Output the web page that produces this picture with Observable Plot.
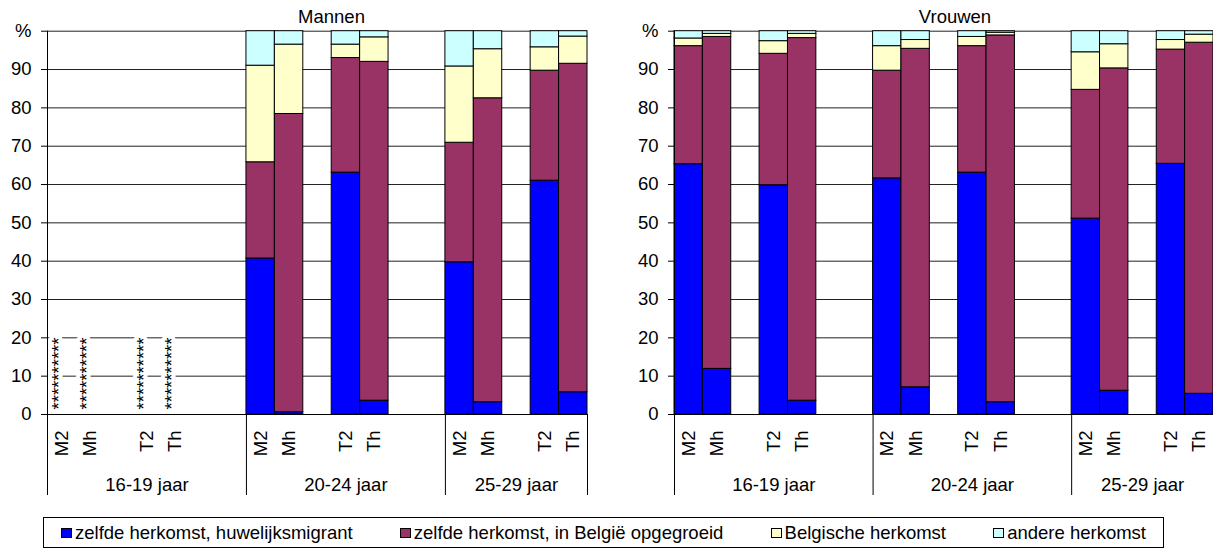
<!DOCTYPE html>
<html><head><meta charset="utf-8">
<script src="https://cdn.jsdelivr.net/npm/d3@7"></script>
<script src="https://cdn.jsdelivr.net/npm/@observablehq/plot@0.6"></script>
<style>
body{margin:0;background:#fff;font-family:"Liberation Sans",Arial,sans-serif;}
#wrap{position:relative;width:1213px;height:549px;overflow:hidden;background:#fff;}
#left,#right{position:absolute;top:0;}
#left{left:0;} #right{left:600px;}
#legend{position:absolute;left:43px;top:517px;width:1121px;height:31px;box-sizing:border-box;border:1px solid #000;display:flex;justify-content:space-between;align-items:center;padding:0 17px;font-size:18.5px;color:#000;}
.item{display:flex;align-items:center;white-space:nowrap;}
.sw{width:9px;height:8px;border:1px solid #000;margin-right:3px;}
</style></head><body>
<div id="wrap"><div id="left"></div><div id="right"></div><div id="legend"></div></div>
<script>
const panelTitles = ["Mannen", "Vrouwen"];
const ageGroups = ["16-19 jaar", "20-24 jaar", "25-29 jaar"];
const subCats = ["M2", "Mh", "T2", "Th"];
const seriesNames = ["zelfde herkomst, huwelijksmigrant", "zelfde herkomst, in België opgegroeid", "Belgische herkomst", "andere herkomst"];
const seriesColors = ["#0000FF", "#993366", "#FFFFCC", "#CCFFFF"];
const yTicks = [0, 10, 20, 30, 40, 50, 60, 70, 80, 90, 100];
const missingLabel = "**********";

// values per age group x subcategory (M2, Mh, T2, Th); null = too few cases
const mannenHuwelijks = [null, null, null, null, 40.7, 0.6, 63.1, 3.6, 39.7, 3.2, 61.0, 5.8];
const mannenOpgegroeid = [null, null, null, null, 25.1, 77.8, 29.9, 88.4, 31.2, 79.3, 28.7, 85.7];
const mannenBelgisch = [null, null, null, null, 25.2, 18.1, 3.5, 6.4, 19.9, 12.8, 6.1, 7.1];
const mannenAndere = [null, null, null, null, 9.0, 3.5, 3.5, 1.6, 9.2, 4.7, 4.2, 1.4];

const vrouwenHuwelijks = [65.3, 11.9, 59.8, 3.6, 61.6, 7.1, 63.1, 3.2, 51.1, 6.2, 65.4, 5.4];
const vrouwenOpgegroeid = [30.8, 86.6, 34.3, 94.6, 28.1, 88.3, 33.0, 95.7, 33.6, 84.1, 29.8, 91.6];
const vrouwenBelgisch = [2.0, 0.8, 3.3, 1.1, 6.4, 2.3, 2.4, 0.7, 9.8, 6.3, 2.5, 2.1];
const vrouwenAndere = [1.9, 0.7, 2.6, 0.7, 3.9, 2.3, 1.5, 0.4, 5.5, 3.4, 2.3, 0.9];

// category slots: M2, Mh, (gap), T2, Th, (gap), (gap)
const slots = [];
ageGroups.forEach((g, gi) => {
  slots.push(`${g}|M2`, `${g}|Mh`, `${g}|gap1`, `${g}|T2`, `${g}|Th`);
  if (gi < ageGroups.length - 1) slots.push(`${g}|gap2`, `${g}|gap3`);
});
const slotLabel = s => { const p = s.split("|")[1]; return subCats.includes(p) ? p : ""; };
const groupCenters = ageGroups.map(g => { const gs = slots.filter(s => s.startsWith(g + "|")); return gs[Math.floor(gs.length / 2)]; });
const groupStarts = ageGroups.map(g => `${g}|M2`);

function buildRows(arrays) {
  const rows = [], missing = [];
  ageGroups.forEach((g, gi) => subCats.forEach((c, ci) => {
    const k = gi * subCats.length + ci;
    if (arrays.every(a => a[k] == null)) { missing.push({slot: `${g}|${c}`}); return; }
    arrays.forEach((a, si) => rows.push({slot: `${g}|${c}`, series: seriesNames[si], value: a[k]}));
  }));
  return {rows, missing};
}

function makePanel(title, arrays, width, marginLeft, marginRight, titleDx) {
  const {rows, missing} = buildRows(arrays);
  const H = 505, mt = 30.7, mb = H - 414;
  const bw = (width - marginLeft - marginRight) / slots.length;
  return Plot.plot({
    width, height: H, marginTop: mt, marginBottom: mb, marginLeft, marginRight,
    style: {fontFamily: "Liberation Sans, Arial, sans-serif", fontSize: "18.5px", color: "#000", background: "transparent", overflow: "visible"},
    x: {type: "band", domain: slots, padding: 0, round: false, label: null},
    y: {domain: [0, 100], label: null},
    color: {domain: seriesNames, range: seriesColors},
    marks: [
      Plot.ruleY(yTicks.filter(d => d > 0), {stroke: "#222", strokeWidth: 1}),
      Plot.barY(rows, {x: "slot", y: "value", fill: "series", stroke: "#000", strokeWidth: 1}),
      Plot.text(missing, {x: "slot", frameAnchor: "bottom", dy: -5, dx: 3, text: () => missingLabel, rotate: -90, textAnchor: "start", fill: "#000", stroke: "white", strokeWidth: 8, paintOrder: "stroke"}),
      Plot.ruleY([0], {stroke: "#000", strokeWidth: 1}),
      Plot.ruleX([slots[0]], {x: d => d, y1: 100, y2: 0, dx: -bw / 2, insetBottom: -81, stroke: "#000"}),
      Plot.ruleX(groupStarts.slice(1), {x: d => d, y1: 0, y2: 0, dx: -bw / 2, insetBottom: -81, stroke: "#000"}),
      Plot.ruleX([slots[slots.length - 1]], {x: d => d, y1: 0, y2: 0, dx: bw / 2, insetBottom: -81, stroke: "#000"}),
      Plot.axisY({ticks: yTicks, tickSize: 6, tickPadding: 10, tickFormat: d => d === 100 ? "%" : String(d), label: null}),
      Plot.axisX({ticks: slots.filter(s => slotLabel(s)), tickSize: 0, tickPadding: 16, tickRotate: -90, tickFormat: slotLabel, label: null}),
      Plot.axisX({ticks: groupCenters, tickSize: 0, tickPadding: 63, tickFormat: s => s.split("|")[0], label: null}),
      Plot.text([title], {frameAnchor: "top", lineAnchor: "bottom", dy: -8, dx: titleDx, text: d => d, fill: "#000"})
    ]
  });
}

document.getElementById("left").append(makePanel(panelTitles[0], [mannenHuwelijks, mannenOpgegroeid, mannenBelgisch, mannenAndere], 600, 47, 13, 14));
document.getElementById("right").append(makePanel(panelTitles[1], [vrouwenHuwelijks, vrouwenOpgegroeid, vrouwenBelgisch, vrouwenAndere], 613, 74, 0, 11));

const legend = document.getElementById("legend");
seriesNames.forEach((n, i) => {
  const it = document.createElement("div"); it.className = "item";
  const sw = document.createElement("span"); sw.className = "sw"; sw.style.background = seriesColors[i];
  const tx = document.createElement("span"); tx.textContent = n;
  it.append(sw, tx); legend.append(it);
});
</script>
</body></html>
